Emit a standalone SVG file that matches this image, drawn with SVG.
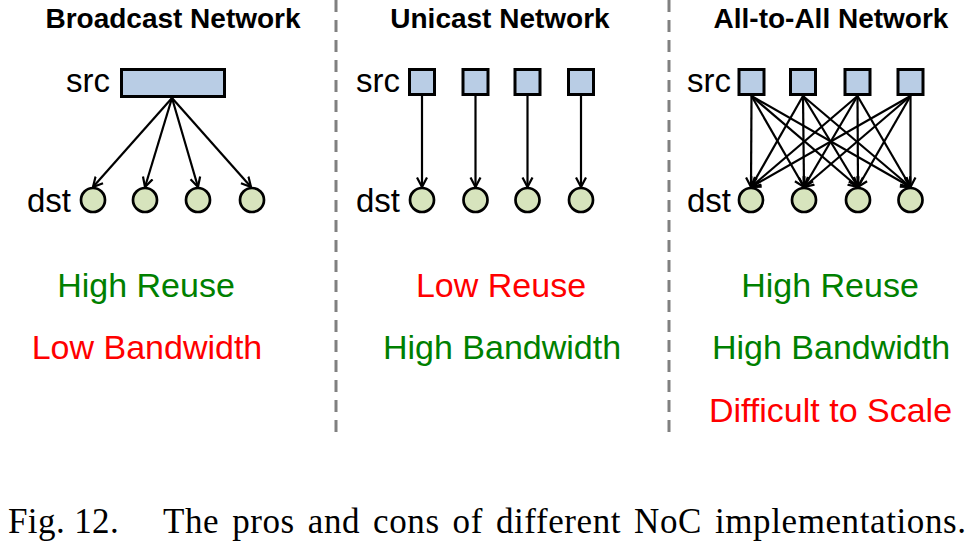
<svg xmlns="http://www.w3.org/2000/svg" width="970" height="545" viewBox="0 0 970 545">
<style>
.title{font-family:"Liberation Sans",Arial,sans-serif;font-weight:bold;font-size:28px;fill:#000;text-anchor:middle}
.lbl{font-family:"Liberation Sans",Arial,sans-serif;font-size:33px;fill:#000;text-anchor:end}
.prop{font-family:"Liberation Sans",Arial,sans-serif;font-size:34px;text-anchor:middle}
.good{fill:#008000}
.bad{fill:#FF0000}
.src{fill:#B9CDE5;stroke:#000;stroke-width:3}
.dst{fill:#D7E4BD;stroke:#000;stroke-width:2.7}
.edge{stroke:#000;stroke-width:2.2;fill:none;marker-end:url(#arr)}
.sep{stroke:#808080;stroke-width:3;stroke-dasharray:12 8;fill:none}
.cap{font-family:"Liberation Serif","Times New Roman",serif;font-size:35px;fill:#000}
</style>
<defs>
<marker id="arr" viewBox="0 0 10 12" refX="10" refY="6" markerWidth="10" markerHeight="13" markerUnits="userSpaceOnUse" orient="auto">
<path d="M0.5,1 L10,6 L0.5,11" fill="none" stroke="#000" stroke-width="2.2"/>
</marker>
</defs>

<g id="separators">
<line class="sep" x1="336" y1="0" x2="336" y2="432"/>
<line class="sep" x1="669" y1="0" x2="669" y2="432"/>
</g>

<g id="broadcast">
<text class="title" x="173" y="28">Broadcast Network</text>
<text class="lbl" x="110" y="92">src</text>
<text class="lbl" x="71" y="212">dst</text>
<rect id="b-src" class="src" x="121.5" y="69.5" width="103" height="27"/>
<circle id="b-d1" class="dst" cx="93" cy="200" r="12"/>
<circle id="b-d2" class="dst" cx="145" cy="200" r="12"/>
<circle id="b-d3" class="dst" cx="198" cy="200" r="12"/>
<circle id="b-d4" class="dst" cx="252" cy="200" r="12"/>
<text class="prop good" x="146" y="297">High Reuse</text>
<text class="prop bad" x="147" y="359">Low Bandwidth</text>
</g>

<g id="unicast">
<text class="title" x="500" y="28">Unicast Network</text>
<text class="lbl" x="400" y="92">src</text>
<text class="lbl" x="400" y="212">dst</text>
<rect id="u-s1" class="src" x="409.5" y="69.5" width="25" height="25"/>
<rect id="u-s2" class="src" x="463" y="69.5" width="25" height="25"/>
<rect id="u-s3" class="src" x="515" y="69.5" width="25" height="25"/>
<rect id="u-s4" class="src" x="568.5" y="69.5" width="25" height="25"/>
<circle id="u-d1" class="dst" cx="422" cy="200" r="12"/>
<circle id="u-d2" class="dst" cx="475.5" cy="200" r="12"/>
<circle id="u-d3" class="dst" cx="527.5" cy="200" r="12"/>
<circle id="u-d4" class="dst" cx="581" cy="200" r="12"/>
<text class="prop bad" x="501" y="297">Low Reuse</text>
<text class="prop good" x="502" y="359">High Bandwidth</text>
</g>

<g id="alltoall">
<text class="title" x="831" y="28">All-to-All Network</text>
<text class="lbl" x="731" y="92">src</text>
<text class="lbl" x="731" y="212">dst</text>
<rect id="a-s1" class="src" x="739" y="69.5" width="25" height="25"/>
<rect id="a-s2" class="src" x="790.5" y="69.5" width="25" height="25"/>
<rect id="a-s3" class="src" x="845" y="69.5" width="25" height="25"/>
<rect id="a-s4" class="src" x="898" y="69.5" width="25" height="25"/>
<circle id="a-d1" class="dst" cx="751" cy="200" r="12"/>
<circle id="a-d2" class="dst" cx="804" cy="200" r="12"/>
<circle id="a-d3" class="dst" cx="858" cy="200" r="12"/>
<circle id="a-d4" class="dst" cx="910.5" cy="200" r="12"/>
<text class="prop good" x="830" y="297">High Reuse</text>
<text class="prop good" x="831" y="359">High Bandwidth</text>
<text class="prop bad" x="830.5" y="422">Difficult to Scale</text>
</g>

<g id="connectors">
<line class="edge" x1="172" y1="98" x2="93" y2="187"/>
<line class="edge" x1="172" y1="98" x2="145" y2="187"/>
<line class="edge" x1="172" y1="98" x2="198" y2="187"/>
<line class="edge" x1="172" y1="98" x2="251" y2="187"/>

<line class="edge" x1="422" y1="96" x2="422" y2="187"/>
<line class="edge" x1="475.5" y1="96" x2="475.5" y2="187"/>
<line class="edge" x1="527.5" y1="96" x2="527.5" y2="187"/>
<line class="edge" x1="581" y1="96" x2="581" y2="187"/>

<line class="edge" x1="751.5" y1="96" x2="751" y2="187"/>
<line class="edge" x1="751.5" y1="96" x2="804" y2="187"/>
<line class="edge" x1="751.5" y1="96" x2="858" y2="187"/>
<line class="edge" x1="751.5" y1="96" x2="910.5" y2="187"/>
<line class="edge" x1="803" y1="96" x2="751" y2="187"/>
<line class="edge" x1="803" y1="96" x2="804" y2="187"/>
<line class="edge" x1="803" y1="96" x2="858" y2="187"/>
<line class="edge" x1="803" y1="96" x2="910.5" y2="187"/>
<line class="edge" x1="857.5" y1="96" x2="751" y2="187"/>
<line class="edge" x1="857.5" y1="96" x2="804" y2="187"/>
<line class="edge" x1="857.5" y1="96" x2="858" y2="187"/>
<line class="edge" x1="857.5" y1="96" x2="910.5" y2="187"/>
<line class="edge" x1="910.5" y1="96" x2="751" y2="187"/>
<line class="edge" x1="910.5" y1="96" x2="804" y2="187"/>
<line class="edge" x1="910.5" y1="96" x2="858" y2="187"/>
<line class="edge" x1="910.5" y1="96" x2="910.5" y2="187"/>
</g>

<g id="caption">
<text class="cap" y="533"><tspan x="8" letter-spacing="0.4">Fig. 12.</tspan><tspan x="163" letter-spacing="0.6" word-spacing="3.6">The pros and cons of different NoC implementations.</tspan></text>
</g>
</svg>
